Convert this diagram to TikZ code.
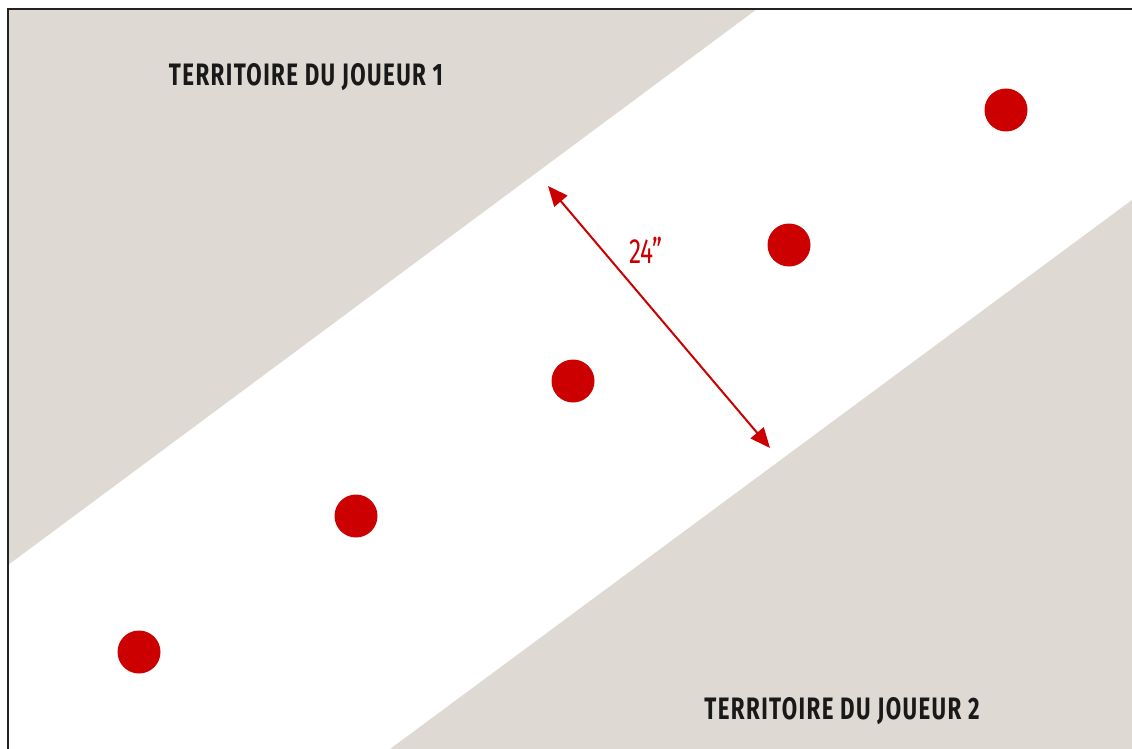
\documentclass[tikz,border=0pt]{standalone}
\usepackage{fontspec}
\usetikzlibrary{arrows.meta}
\newfontfamily\condfont[FakeStretch=0.72,LetterSpace=4.5]{Fira Sans}
\newfontfamily\dimfont[FakeStretch=0.7]{Fira Sans}
\definecolor{bandgrey}{HTML}{DEDAD3}
\definecolor{dotred}{HTML}{CC0000}
\definecolor{frameblack}{HTML}{222222}
\tikzset{
  reddot/.style={circle,fill=dotred,minimum size=43pt,inner sep=0pt},
  zonelabel/.style={font=\condfont\bfseries\fontsize{31}{31}\selectfont,text=black!90,inner sep=0pt},
  dimlabel/.style={font=\dimfont\fontsize{35}{35}\selectfont,text=dotred,inner sep=0pt},
  dimarrow/.style={draw=dotred,line width=2pt,{Triangle[length=20pt,width=17pt]}-{Triangle[length=20pt,width=17pt]}},
}
\begin{document}
\begin{tikzpicture}[x=1pt,y=-1pt]
\useasboundingbox (0,0) rectangle (1132,749);
\fill[white] (0,0) rectangle (1132,749);
\fill[bandgrey] (8,9) -- (757,9) -- (8,565) -- cycle;
\fill[bandgrey] (1132,200) -- (1132,749) -- (390,749) -- cycle;
\draw[frameblack,line width=2pt] (8,749) -- (8,9) -- (1132,9);
\node[zonelabel] (p1) at (306,77) {TERRITOIRE DU JOUEUR 1};
\node[zonelabel] (p2) at (842,711) {TERRITOIRE DU JOUEUR 2};
\node[reddot] (d1) at (1006,110) {};
\node[reddot] (d2) at (789,245) {};
\node[reddot] (d3) at (573,381) {};
\node[reddot] (d4) at (356,516) {};
\node[reddot] (d5) at (139,652) {};
\coordinate (a1) at (548,186);
\coordinate (a2) at (770,448);
\draw[dimarrow] (a1) -- (a2);
\node[dimlabel] (dim) at (646,250) {24”};
\end{tikzpicture}
\end{document}
